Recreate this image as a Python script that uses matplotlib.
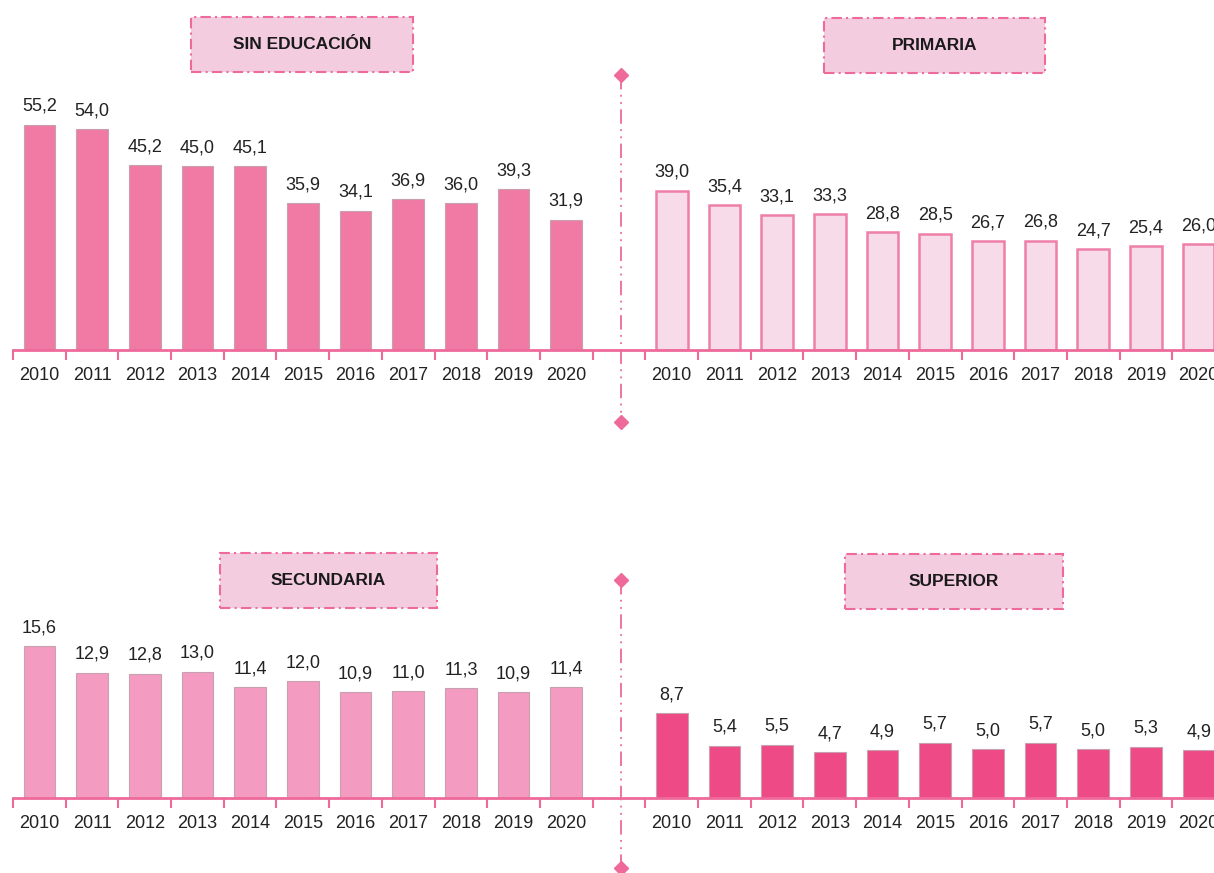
import matplotlib
matplotlib.use("Agg")
import matplotlib.pyplot as plt
from matplotlib.patches import Rectangle
from matplotlib.lines import Line2D

plt.rcParams['font.family'] = ['Liberation Sans', 'DejaVu Sans']

years = ["2010", "2011", "2012", "2013", "2014", "2015", "2016", "2017", "2018", "2019", "2020"]
sin_educacion = [55.2, 54.0, 45.2, 45.0, 45.1, 35.9, 34.1, 36.9, 36.0, 39.3, 31.9]
primaria = [39.0, 35.4, 33.1, 33.3, 28.8, 28.5, 26.7, 26.8, 24.7, 25.4, 26.0]
secundaria = [15.6, 12.9, 12.8, 13.0, 11.4, 12.0, 10.9, 11.0, 11.3, 10.9, 11.4]
superior = [8.7, 5.4, 5.5, 4.7, 4.9, 5.7, 5.0, 5.7, 5.0, 5.3, 4.9]
titles = ["SIN EDUCACIÓN", "PRIMARIA", "SECUNDARIA", "SUPERIOR"]

PINK = "#EE6A9A"
W, H = 1214, 873
fig = plt.figure(figsize=(W / 100, H / 100), dpi=100)


def fmt(v):
    return f"{v:.1f}".replace(".", ",")


def row(y_base, y_top, ymax, left_vals, right_vals, left_style, right_style):
    ax = fig.add_axes([13 / W, 1 - y_base / H, 1212 / W, (y_base - y_top) / H])
    n = len(years)
    xl = list(range(n))
    xr = [i + n + 1 for i in range(n)]
    for xs, vals, st in ((xl, left_vals, left_style), (xr, right_vals, right_style)):
        bars = ax.bar(xs, vals, width=0.6, color=st[0], edgecolor=st[1], linewidth=st[2], zorder=2)
        for b, v in zip(bars, vals):
            ax.annotate(fmt(v), (b.get_x() + b.get_width() / 2, v), xytext=(0, 7),
                        textcoords="offset points", ha="center", va="bottom",
                        fontsize=13, color="#222222")
    ax.set_xlim(-0.5, 2 * n + 0.5)
    ax.set_ylim(0, ymax)
    ax.set_xticks(xl + xr)
    ax.set_xticklabels(years + years, fontsize=13, color="#222222")
    ax.set_xticks([i - 0.5 for i in range(2 * n + 2)], minor=True)
    ax.tick_params(axis="x", which="major", length=0, pad=12)
    ax.tick_params(axis="x", which="minor", length=7, width=1.5, color=PINK, direction="out")
    ax.set_yticks([])
    for s in ("left", "right", "top"):
        ax.spines[s].set_visible(False)
    ax.spines["bottom"].set_color(PINK)
    ax.spines["bottom"].set_linewidth(2)
    ax.patch.set_alpha(0)
    return ax


row(350, 60, 71.0, sin_educacion, primaria,
    ("#F07AA4", "#C9A0B0", 0.8), ("#F8DBE8", "#EE7FA8", 1.8))
row(798, 560, 24.5, secundaria, superior,
    ("#F39BC0", "#C9A0B0", 0.8), ("#EE4A85", "#C9A0B0", 0.8))

# title boxes (pixel layout)
boxes = [(191, 17, 222, 55), (824, 18, 221, 55), (220, 553, 217, 55), (845, 554, 218, 55)]
for (x, y, w, h), t in zip(boxes, titles):
    fig.patches.append(Rectangle((x / W, 1 - (y + h) / H), w / W, h / H, transform=fig.transFigure,
                                 facecolor="#F4CCE0", edgecolor=PINK, linewidth=1.5,
                                 linestyle=(0, (5, 2, 1, 2))))
    fig.text((x + w / 2) / W, 1 - (y + h / 2) / H, t, ha="center", va="center",
             fontsize=12.5, fontweight="bold", color="#1a1a1a")

# vertical separators with diamond ends
for y0, y1 in ((75, 422), (580, 868)):
    fig.add_artist(Line2D([621 / W, 621 / W], [1 - y0 / H, 1 - y1 / H], transform=fig.transFigure,
                          color=PINK, linewidth=1.3, linestyle=(0, (8, 3, 1, 3, 1, 3))))
    fig.add_artist(Line2D([621 / W, 621 / W], [1 - y0 / H, 1 - y1 / H], transform=fig.transFigure,
                          color=PINK, linestyle="none", marker="D", markersize=7))

fig.savefig("out.png", dpi=100)
